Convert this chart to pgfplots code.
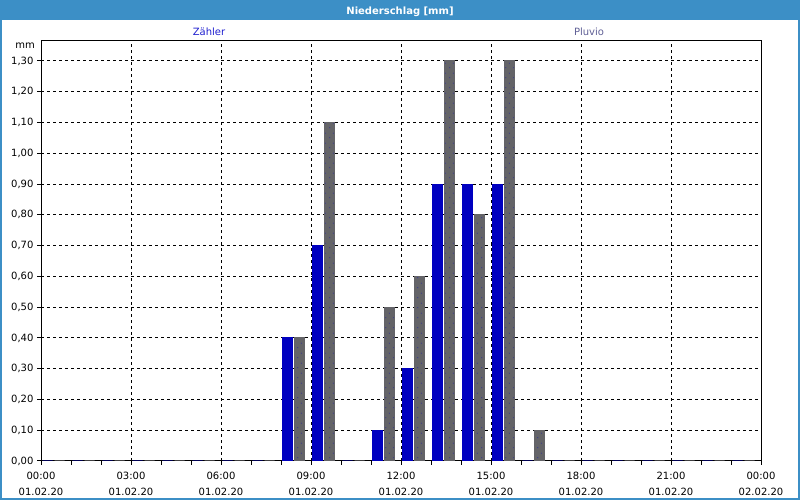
\documentclass[border=0pt]{standalone}
\usepackage{pgfplots}
\pgfplotsset{compat=1.18}
\usepackage{fontspec}
\setmainfont{DejaVu Sans}
\usetikzlibrary{patterns.meta}
\definecolor{titleblue}{RGB}{60,143,198}
\definecolor{barblue}{RGB}{0,0,192}
\definecolor{bargray}{RGB}{100,100,104}
\definecolor{dotblue}{RGB}{50,50,150}
\definecolor{zaehler}{RGB}{32,32,208}
\definecolor{pluvio}{RGB}{96,96,150}
\tikzdeclarepattern{
  name=sparsedots,
  type=uncolored,
  bottom left={(0pt,0pt)},
  top right={(8pt,10pt)},
  tile size={(8pt,10pt)},
  code={\fill (2pt,2.5pt) circle (0.6pt) (6pt,7.5pt) circle (0.6pt);}
}
\begin{document}
\begin{tikzpicture}[x=1pt,y=1pt,font=\fontsize{10}{15}\selectfont]
\useasboundingbox (0,0) rectangle (800,500);
\fill[white] (0,0) rectangle (800,500);
\fill[titleblue] (0,480) rectangle (800,500);
\draw[titleblue, line width=2pt] (1,1) rectangle (799,499);
\node[text=white, font=\fontsize{10}{12}\selectfont\bfseries, anchor=base] at (400,485) {Niederschlag [mm]};
\node[text=zaehler] at (209,468) {Zähler};
\node[text=pluvio] at (589,468) {Pluvio};
\node[anchor=east] at (38.5,454) {mm};
\begin{axis}[
  at={(41pt,39pt)}, anchor=south west,
  scale only axis, width=720pt, height=420pt,
  xmin=0, xmax=24, ymin=0, ymax=1.365,
  xtick={0,3,6,9,12,15,18,21,24},
  minor xtick={0,1,...,24},
  xticklabels={{00:00\\01.02.20},{03:00\\01.02.20},{06:00\\01.02.20},{09:00\\01.02.20},{12:00\\01.02.20},{15:00\\01.02.20},{18:00\\01.02.20},{21:00\\01.02.20},{00:00\\02.02.20}},
  xticklabel style={align=center, font=\fontsize{10}{15.5}\selectfont, yshift=-4pt},
  ytick={0,0.1,0.2,0.3,0.4,0.5,0.6,0.7,0.8,0.9,1.0,1.1,1.2,1.3},
  yticklabel style={font=\fontsize{10}{12}\selectfont, /pgf/number format/.cd, fixed, fixed zerofill, precision=2, use comma, assume math mode=true},
  tick pos=left,
  tick align=outside,
  major tick length=4pt, minor tick length=4pt,
  tick style={black, line width=1pt},
  axis line style={black, line width=1pt},
  grid=major,
  major grid style={black, line width=1pt, dash pattern=on 3pt off 3pt},
]
\addplot[ybar, bar width=10pt, bar shift=0pt, fill=barblue, draw=barblue, line width=1pt] coordinates {
(0.217,0) (1.217,0) (2.217,0) (3.217,0) (4.217,0) (5.217,0) (6.217,0) (7.217,0)
(8.217,0.4) (9.217,0.7) (10.217,0) (11.217,0.1) (12.217,0.3) (13.217,0.9) (14.217,0.9) (15.217,0.9)
(16.217,0) (17.217,0) (18.217,0) (19.217,0) (20.217,0) (21.217,0) (22.217,0) (23.217,0)
};
\addplot[ybar, bar width=10pt, bar shift=0pt, fill=bargray, draw=bargray, line width=1pt,
  postaction={pattern=sparsedots, pattern color=dotblue}] coordinates {
(0.617,0) (1.617,0) (2.617,0) (3.617,0) (4.617,0) (5.617,0) (6.617,0) (7.617,0)
(8.617,0.4) (9.617,1.1) (10.617,0) (11.617,0.5) (12.617,0.6) (13.617,1.3) (14.617,0.8) (15.617,1.3)
(16.617,0.1) (17.617,0) (18.617,0) (19.617,0) (20.617,0) (21.617,0) (22.617,0) (23.617,0)
};
\end{axis}
\end{tikzpicture}
\end{document}
